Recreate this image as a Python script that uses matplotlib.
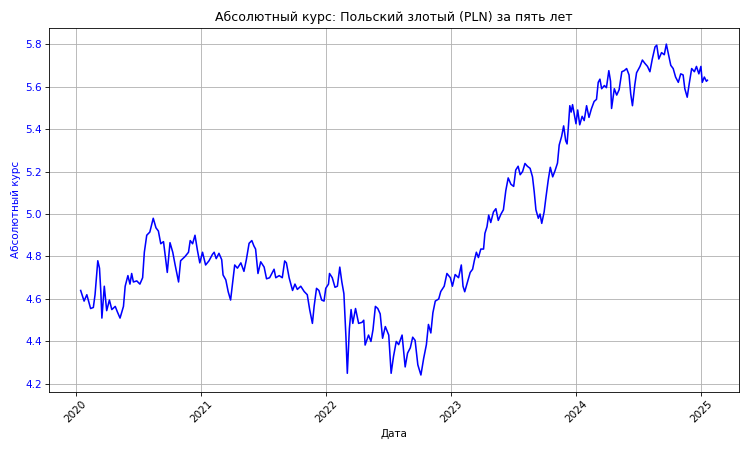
import pandas as pd
import matplotlib
matplotlib.use("Agg")
import matplotlib.pyplot as plt

dates_2020 = ["2020-01-15", "2020-01-25", "2020-02-02", "2020-02-13", "2020-02-21", "2020-02-26",
              "2020-03-05", "2020-03-10", "2020-03-14", "2020-03-17", "2020-03-24", "2020-03-31",
              "2020-04-08", "2020-04-15", "2020-04-25", "2020-05-01", "2020-05-09", "2020-05-19",
              "2020-05-24", "2020-06-01", "2020-06-07", "2020-06-12", "2020-06-17", "2020-06-27",
              "2020-07-06", "2020-07-14", "2020-07-19", "2020-07-26", "2020-08-04", "2020-08-14",
              "2020-08-22", "2020-08-29", "2020-09-05", "2020-09-13", "2020-09-20", "2020-09-24",
              "2020-10-02", "2020-10-10", "2020-10-17", "2020-10-27", "2020-11-02", "2020-11-15",
              "2020-11-25", "2020-11-30", "2020-12-07", "2020-12-14", "2020-12-21", "2020-12-28"]
rates_2020 = [4.64, 4.59, 4.62, 4.555, 4.56, 4.62,
              4.78, 4.745, 4.63, 4.51, 4.66, 4.545,
              4.595, 4.55, 4.565, 4.54, 4.51, 4.565,
              4.66, 4.71, 4.67, 4.72, 4.68, 4.685,
              4.67, 4.70, 4.82, 4.90, 4.915, 4.98,
              4.935, 4.92, 4.86, 4.87, 4.78, 4.725,
              4.865, 4.82, 4.76, 4.68, 4.78, 4.80,
              4.82, 4.875, 4.86, 4.90, 4.83, 4.77]

dates_2021 = ["2021-01-05", "2021-01-14", "2021-01-24", "2021-02-03", "2021-02-08", "2021-02-14",
              "2021-02-22", "2021-03-02", "2021-03-06", "2021-03-14", "2021-03-21", "2021-03-28",
              "2021-04-02", "2021-04-09", "2021-04-17", "2021-04-27", "2021-05-06", "2021-05-13",
              "2021-05-21", "2021-05-29", "2021-06-04", "2021-06-09", "2021-06-16", "2021-06-24",
              "2021-07-04", "2021-07-11", "2021-07-20", "2021-08-02", "2021-08-07", "2021-08-17",
              "2021-08-26", "2021-09-02", "2021-09-07", "2021-09-15", "2021-09-25", "2021-10-02",
              "2021-10-09", "2021-10-19", "2021-10-29", "2021-11-07", "2021-11-14", "2021-11-22",
              "2021-11-27", "2021-12-04", "2021-12-11", "2021-12-19", "2021-12-26", "2021-12-31"]
rates_2021 = [4.82, 4.76, 4.78, 4.81, 4.82, 4.79,
              4.815, 4.785, 4.713, 4.69, 4.634, 4.595,
              4.665, 4.76, 4.745, 4.77, 4.73, 4.785,
              4.862, 4.875, 4.85, 4.835, 4.72, 4.775,
              4.75, 4.695, 4.70, 4.74, 4.70, 4.71,
              4.70, 4.779, 4.77, 4.70, 4.64, 4.67,
              4.645, 4.66, 4.635, 4.62, 4.55, 4.485,
              4.565, 4.65, 4.64, 4.595, 4.59, 4.65]

dates_2022 = ["2022-01-08", "2022-01-11", "2022-01-19", "2022-01-27", "2022-02-03", "2022-02-10",
              "2022-02-16", "2022-02-22", "2022-02-24", "2022-02-28", "2022-03-04", "2022-03-10",
              "2022-03-15", "2022-03-20", "2022-03-28", "2022-04-06", "2022-04-16", "2022-04-21",
              "2022-04-25", "2022-05-05", "2022-05-12", "2022-05-18", "2022-05-25", "2022-06-01",
              "2022-06-08", "2022-06-15", "2022-06-23", "2022-07-03", "2022-07-10", "2022-07-17",
              "2022-07-25", "2022-08-01", "2022-08-11", "2022-08-20", "2022-08-27", "2022-09-04",
              "2022-09-11", "2022-09-18", "2022-09-26", "2022-10-05", "2022-10-13", "2022-10-21",
              "2022-10-27", "2022-11-03", "2022-11-09", "2022-11-16", "2022-11-26", "2022-12-02",
              "2022-12-12", "2022-12-20", "2022-12-30"]
rates_2022 = [4.67, 4.72, 4.70, 4.655, 4.66, 4.75,
              4.68, 4.625, 4.56, 4.42, 4.25, 4.46,
              4.55, 4.485, 4.555, 4.485, 4.49, 4.50,
              4.383, 4.43, 4.40, 4.455, 4.565, 4.555,
              4.53, 4.415, 4.47, 4.43, 4.25, 4.33,
              4.40, 4.385, 4.43, 4.28, 4.345, 4.37,
              4.42, 4.405, 4.29, 4.242, 4.32, 4.385,
              4.48, 4.44, 4.535, 4.59, 4.60, 4.635,
              4.66, 4.72, 4.70]

dates_2023 = ["2023-01-05", "2023-01-13", "2023-01-23", "2023-01-31", "2023-02-05", "2023-02-10",
              "2023-02-18", "2023-02-26", "2023-03-05", "2023-03-10", "2023-03-16", "2023-03-22",
              "2023-03-29", "2023-04-06", "2023-04-10", "2023-04-16", "2023-04-21", "2023-04-27",
              "2023-05-05", "2023-05-12", "2023-05-19", "2023-05-27", "2023-06-03", "2023-06-10",
              "2023-06-17", "2023-06-25", "2023-07-03", "2023-07-09", "2023-07-16", "2023-07-22",
              "2023-07-29", "2023-08-05", "2023-08-12", "2023-08-20", "2023-08-27", "2023-09-01",
              "2023-09-06", "2023-09-13", "2023-09-18", "2023-09-23", "2023-09-30", "2023-10-05",
              "2023-10-12", "2023-10-18", "2023-10-25", "2023-11-01", "2023-11-08", "2023-11-13",
              "2023-11-20", "2023-11-26", "2023-12-02", "2023-12-06", "2023-12-10", "2023-12-14",
              "2023-12-18", "2023-12-22", "2023-12-27"]
rates_2023 = [4.66, 4.715, 4.70, 4.76, 4.66, 4.634,
              4.68, 4.725, 4.74, 4.78, 4.82, 4.795,
              4.835, 4.835, 4.909, 4.94, 4.995, 4.96,
              5.01, 5.025, 4.97, 5.00, 5.02, 5.11,
              5.17, 5.14, 5.13, 5.207, 5.225, 5.185,
              5.20, 5.238, 5.225, 5.215, 5.175, 5.105,
              5.02, 4.98, 5.00, 4.956, 5.01, 5.075,
              5.16, 5.22, 5.175, 5.205, 5.24, 5.325,
              5.365, 5.415, 5.345, 5.33, 5.415, 5.51,
              5.48, 5.515, 5.47]

dates_2024 = ["2024-01-01", "2024-01-06", "2024-01-12", "2024-01-19", "2024-01-25", "2024-02-01",
              "2024-02-08", "2024-02-15", "2024-02-23", "2024-03-01", "2024-03-06", "2024-03-11",
              "2024-03-16", "2024-03-24", "2024-03-30", "2024-04-06", "2024-04-11", "2024-04-14",
              "2024-04-22", "2024-04-29", "2024-05-06", "2024-05-14", "2024-05-21", "2024-05-28",
              "2024-06-04", "2024-06-09", "2024-06-14", "2024-06-21", "2024-06-26", "2024-07-06",
              "2024-07-13", "2024-07-20", "2024-07-28", "2024-08-04", "2024-08-11", "2024-08-19",
              "2024-08-24", "2024-08-30", "2024-09-07", "2024-09-15", "2024-09-21", "2024-09-28",
              "2024-10-04", "2024-10-11", "2024-10-18", "2024-10-26", "2024-11-02", "2024-11-09",
              "2024-11-14", "2024-11-21", "2024-11-27", "2024-12-04", "2024-12-12", "2024-12-18",
              "2024-12-25", "2024-12-31", "2025-01-04", "2025-01-10", "2025-01-16", "2025-01-19"]
rates_2024 = [5.425, 5.49, 5.42, 5.46, 5.44, 5.51,
              5.455, 5.495, 5.53, 5.54, 5.62, 5.635,
              5.59, 5.605, 5.595, 5.675, 5.625, 5.497,
              5.59, 5.56, 5.585, 5.67, 5.675, 5.685,
              5.655, 5.565, 5.51, 5.61, 5.665, 5.695,
              5.725, 5.71, 5.695, 5.67, 5.73, 5.787,
              5.795, 5.73, 5.76, 5.75, 5.80, 5.745,
              5.70, 5.685, 5.645, 5.62, 5.66, 5.655,
              5.59, 5.55, 5.615, 5.685, 5.67, 5.695,
              5.66, 5.695, 5.62, 5.645, 5.625, 5.63]

dates = pd.to_datetime(dates_2020 + dates_2021 + dates_2022 + dates_2023 + dates_2024)
rates = rates_2020 + rates_2021 + rates_2022 + rates_2023 + rates_2024

fig, ax = plt.subplots(figsize=(10, 6), dpi=75)
ax.plot(dates, rates, color="blue", linewidth=1.5)
ax.set_title("Абсолютный курс: Польский злотый (PLN) за пять лет")
ax.set_xlabel("Дата")
ax.set_ylabel("Абсолютный курс", color="blue")
ax.tick_params(axis="y", labelcolor="blue")
plt.xticks(rotation=45)
ax.grid(True)
plt.tight_layout()
plt.savefig("out.png")
